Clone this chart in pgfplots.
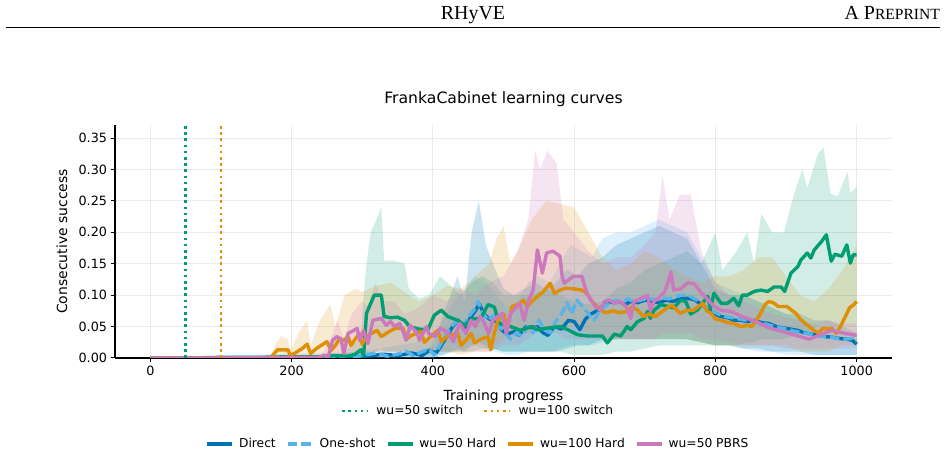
\documentclass[border=0pt]{standalone}
\usepackage{pgfplots}
\pgfplotsset{compat=1.18}
\usepackage{pgfplotstable}
\usepgfplotslibrary{fillbetween}
\usepackage{fontspec}
\setmainfont{DejaVu Sans}
\newfontfamily\headfont{Liberation Serif}

\definecolor{cDirect}{HTML}{0173B2}
\definecolor{cOne}{HTML}{56B4E9}
\definecolor{cGreen}{HTML}{029E73}
\definecolor{cOrange}{HTML}{DE8F05}
\definecolor{cPink}{HTML}{CC78BC}

\pgfplotstableread{
x y
0 0
100 0
200 0
300 0.002
330 0.006
350 0.004
370 0.008
385 0.004
395 0.012
405 0.008
412 0.02
420 0.035
428 0.05
436 0.06
444 0.045
452 0.062
460 0.075
466 0.086
472 0.07
480 0.062
490 0.058
497 0.045
505 0.038
515 0.042
522 0.036
532 0.05
540 0.048
548 0.05
556 0.04
563 0.036
572 0.05
582 0.046
592 0.06
600 0.058
608 0.045
616 0.062
624 0.07
632 0.075
640 0.082
648 0.09
656 0.088
664 0.09
672 0.085
680 0.09
690 0.088
700 0.092
710 0.09
720 0.088
730 0.092
740 0.09
750 0.094
760 0.095
770 0.093
780 0.085
790 0.078
798 0.07
808 0.066
818 0.064
826 0.06
836 0.06
846 0.058
856 0.06
866 0.056
876 0.055
886 0.05
896 0.048
906 0.046
916 0.044
926 0.04
936 0.038
946 0.036
956 0.034
966 0.033
976 0.031
986 0.03
994 0.028
1000 0.022
}\meanDirect

\pgfplotstableread{
x y
0 0
100 0
200 0
280 0.001
300 0.004
320 0.008
335 0.003
350 0.006
362 0.011
372 0.004
385 0.01
395 0.014
402 0.005
410 0.02
418 0.035
426 0.05
434 0.058
442 0.05
450 0.065
458 0.076
464 0.09
470 0.072
478 0.06
486 0.068
494 0.05
502 0.04
510 0.03
518 0.04
526 0.035
534 0.05
542 0.04
550 0.06
558 0.045
566 0.04
574 0.058
582 0.07
590 0.088
596 0.07
604 0.092
612 0.082
620 0.07
628 0.06
636 0.075
644 0.082
652 0.09
660 0.092
668 0.088
676 0.094
684 0.09
694 0.092
704 0.095
714 0.093
724 0.096
734 0.094
744 0.098
754 0.1
764 0.098
774 0.092
784 0.082
794 0.076
804 0.07
814 0.066
824 0.064
834 0.062
844 0.06
854 0.058
864 0.056
874 0.053
884 0.05
894 0.048
904 0.045
914 0.042
924 0.04
934 0.038
944 0.036
954 0.034
964 0.033
974 0.031
984 0.03
994 0.031
1000 0.027
}\meanOne

\pgfplotstableread{
x y
0 0
50 0
100 0.001
150 0.001
200 0.002
240 0.002
260 0.004
280 0.003
290 0.006
298 0.013
302 0.004
306 0.071
317 0.1
327 0.1
331 0.066
340 0.064
350 0.065
360 0.06
367 0.05
380 0.046
393 0.045
402 0.068
412 0.076
421 0.066
435 0.06
445 0.052
455 0.062
468 0.063
478 0.085
487 0.081
494 0.055
510 0.05
524 0.044
540 0.05
548 0.045
565 0.048
581 0.05
591 0.045
605 0.037
620 0.035
640 0.035
647 0.024
657 0.038
666 0.035
675 0.05
680 0.045
690 0.058
699 0.063
704 0.074
708 0.063
713 0.076
723 0.085
732 0.082
741 0.08
751 0.092
758 0.09
765 0.07
775 0.077
789 0.098
793 0.079
798 0.103
808 0.087
817 0.087
826 0.095
833 0.083
838 0.1
845 0.1
855 0.106
864 0.108
874 0.106
883 0.113
893 0.113
898 0.106
907 0.135
917 0.146
921 0.156
930 0.167
935 0.159
940 0.172
950 0.185
957 0.196
964 0.154
969 0.165
979 0.162
986 0.18
991 0.151
995 0.164
1000 0.164
}\meanGreen

\pgfplotstableread{
x y
0 0
100 0
170 0
176 0.008
180 0.013
195 0.013
198 0.004
205 0.008
215 0.015
222 0.022
227 0.007
235 0.015
250 0.026
256 0.012
262 0.02
268 0.031
274 0.028
280 0.034
284 0.02
290 0.03
296 0.039
300 0.022
306 0.035
315 0.04
321 0.044
327 0.034
335 0.04
346 0.047
358 0.047
362 0.03
370 0.036
383 0.042
388 0.025
395 0.032
407 0.044
412 0.026
420 0.034
435 0.04
440 0.02
448 0.03
454 0.039
459 0.024
468 0.03
478 0.034
482 0.013
487 0.04
492 0.06
500 0.07
506 0.05
512 0.082
520 0.085
528 0.092
534 0.082
540 0.09
548 0.098
556 0.105
566 0.119
572 0.103
580 0.108
588 0.111
600 0.11
611 0.108
618 0.103
624 0.092
630 0.085
637 0.076
645 0.072
655 0.075
665 0.072
675 0.074
682 0.082
690 0.076
698 0.066
706 0.07
715 0.066
725 0.074
732 0.08
738 0.084
744 0.078
750 0.071
760 0.076
769 0.076
776 0.082
782 0.087
788 0.075
794 0.071
800 0.062
808 0.06
818 0.056
826 0.055
836 0.05
846 0.052
851 0.05
858 0.06
864 0.071
870 0.085
876 0.09
882 0.088
889 0.082
901 0.082
908 0.076
914 0.071
920 0.062
927 0.055
933 0.05
939 0.044
946 0.04
952 0.047
958 0.046
965 0.047
971 0.039
977 0.05
984 0.066
990 0.08
996 0.085
1000 0.09
}\meanOrange

\pgfplotstableread{
x y
0 0
100 0
200 0.001
239 0.001
245 0.004
252 0.002
258 0.028
264 0.034
270 0.03
274 0.007
280 0.039
293 0.047
296 0.028
302 0.044
308 0.023
315 0.06
327 0.063
334 0.052
340 0.058
346 0.05
353 0.055
359 0.039
362 0.028
368 0.052
378 0.039
381 0.028
391 0.05
394 0.039
403 0.034
410 0.047
416 0.044
422 0.039
429 0.026
438 0.055
447 0.039
454 0.06
460 0.05
467 0.066
473 0.055
479 0.039
485 0.06
498 0.071
504 0.039
510 0.071
523 0.087
529 0.06
536 0.093
542 0.108
545 0.14
548 0.172
555 0.135
561 0.167
570 0.17
580 0.162
583 0.13
586 0.119
599 0.13
611 0.13
618 0.103
624 0.092
630 0.082
637 0.076
643 0.09
650 0.092
657 0.087
666 0.09
675 0.08
680 0.063
685 0.09
695 0.095
704 0.1
708 0.076
713 0.09
720 0.096
728 0.105
733 0.12
737 0.137
741 0.108
751 0.11
761 0.12
770 0.118
779 0.105
789 0.093
798 0.082
808 0.076
822 0.074
838 0.066
857 0.058
876 0.048
895 0.042
914 0.036
933 0.03
946 0.036
965 0.044
984 0.039
1000 0.036
}\meanPink

\pgfplotstableread{
x lo hi
0 0 0
300 0 0.002
380 0 0.01
400 0 0.02
415 0.005 0.07
425 0.01 0.1
435 0.015 0.13
445 0.01 0.09
455 0.02 0.2
465 0.025 0.25
475 0.02 0.18
485 0.015 0.15
500 0.01 0.11
515 0.01 0.1
530 0.01 0.11
545 0.01 0.12
560 0.01 0.11
575 0.01 0.12
590 0.015 0.14
605 0.02 0.13
620 0.02 0.15
640 0.03 0.16
660 0.03 0.18
680 0.03 0.19
700 0.03 0.2
720 0.03 0.21
740 0.03 0.2
760 0.03 0.19
780 0.025 0.15
800 0.02 0.11
820 0.02 0.1
840 0.015 0.1
860 0.015 0.09
880 0.01 0.08
900 0.01 0.07
920 0.01 0.07
940 0.005 0.06
960 0.005 0.06
980 0.005 0.05
1000 0.005 0.04
}\bandDirect

\pgfplotstableread{
x lo hi
0 0 0
300 0 0.01
400 0 0.03
415 0.005 0.06
430 0.01 0.09
445 0.015 0.11
460 0.02 0.13
475 0.015 0.12
490 0.01 0.1
505 0.005 0.08
520 0.005 0.09
535 0.01 0.12
550 0.01 0.13
565 0.01 0.12
580 0.015 0.15
595 0.02 0.18
610 0.02 0.17
625 0.02 0.16
640 0.025 0.19
660 0.03 0.2
680 0.03 0.2
700 0.03 0.21
720 0.03 0.22
740 0.03 0.21
760 0.03 0.2
780 0.025 0.16
800 0.02 0.12
820 0.02 0.11
840 0.015 0.1
860 0.01 0.09
880 0.01 0.08
900 0.005 0.07
920 0.005 0.06
940 0.005 0.05
960 0.005 0.05
980 0.005 0.05
1000 0.005 0.05
}\bandOne

\pgfplotstableread{
x lo hi
0 0 0
270 0 0.005
285 0 0.02
298 0 0.03
302 0.002 0.1
306 0.005 0.15
312 0.01 0.2
320 0.01 0.22
327 0.015 0.24
331 0.01 0.155
345 0.01 0.155
360 0.01 0.15
366 0.005 0.11
380 0.005 0.095
395 0.005 0.1
410 0.01 0.13
425 0.01 0.115
440 0.01 0.1
455 0.01 0.12
470 0.015 0.13
485 0.015 0.12
500 0.01 0.1
520 0.01 0.1
540 0.01 0.1
560 0.01 0.11
580 0.01 0.1
600 0.005 0.09
620 0.005 0.085
640 0.005 0.09
660 0.01 0.11
680 0.01 0.12
700 0.015 0.14
720 0.02 0.15
740 0.02 0.16
760 0.02 0.17
780 0.02 0.15
800 0.02 0.2
810 0.02 0.14
830 0.02 0.17
845 0.025 0.2
855 0.025 0.15
865 0.03 0.23
880 0.03 0.2
897 0.03 0.2
911 0.035 0.26
923 0.04 0.3
930 0.04 0.27
945 0.05 0.325
953 0.05 0.335
963 0.05 0.262
973 0.05 0.257
987 0.05 0.296
991 0.05 0.262
1000 0.05 0.272
}\bandGreen

\pgfplotstableread{
x lo hi
0 0 0
170 0 0
176 0 0.02
185 0 0.035
195 0 0.03
198 0 0.01
210 0 0.04
222 0 0.06
227 0 0.02
240 0 0.06
255 0 0.085
262 0 0.05
275 0.002 0.1
290 0.005 0.11
300 0.005 0.105
320 0.01 0.115
340 0.01 0.12
360 0.01 0.105
380 0.01 0.09
400 0.01 0.1
420 0.01 0.115
440 0.005 0.11
460 0.01 0.13
480 0.01 0.15
490 0.02 0.19
500 0.03 0.21
510 0.03 0.15
520 0.04 0.17
540 0.04 0.22
560 0.05 0.25
580 0.05 0.245
600 0.05 0.24
620 0.04 0.2
640 0.03 0.16
660 0.03 0.14
680 0.03 0.15
700 0.03 0.17
720 0.03 0.16
740 0.03 0.14
760 0.03 0.13
780 0.025 0.12
800 0.02 0.13
820 0.02 0.13
840 0.02 0.14
860 0.02 0.16
880 0.02 0.16
900 0.02 0.13
920 0.01 0.1
940 0.01 0.09
960 0.01 0.11
980 0.02 0.14
1000 0.02 0.18
}\bandOrange

\pgfplotstableread{
x lo hi
0 0 0
240 0 0
255 0 0.03
265 0 0.06
274 0 0.03
285 0.002 0.07
300 0.005 0.09
310 0.005 0.08
318 0.01 0.12
330 0.01 0.09
345 0.01 0.09
360 0.005 0.07
380 0.005 0.08
400 0.01 0.1
420 0.01 0.09
440 0.01 0.11
460 0.01 0.1
480 0.01 0.12
500 0.02 0.13
520 0.02 0.17
535 0.03 0.22
545 0.04 0.33
552 0.04 0.30
562 0.04 0.33
575 0.04 0.31
585 0.03 0.22
600 0.03 0.2
620 0.03 0.17
640 0.03 0.15
660 0.03 0.16
680 0.03 0.16
700 0.03 0.18
715 0.03 0.2
725 0.04 0.29
735 0.04 0.22
750 0.04 0.26
765 0.04 0.26
780 0.03 0.17
800 0.03 0.12
820 0.025 0.1
840 0.02 0.09
860 0.02 0.08
880 0.02 0.07
900 0.015 0.065
920 0.015 0.06
940 0.015 0.055
960 0.015 0.06
980 0.015 0.055
1000 0.015 0.055
}\bandPink

\pgfplotsset{
  commonaxis/.style={
    at={(115bp,98bp)}, anchor=south west, scale only axis,
    width=777bp, height=233bp,
    xmin=-50, xmax=1050, ymin=0, ymax=0.3707,
  },
  myleg/.style={
    legend image code/.code={\draw[##1] (0bp,0bp) -- (25bp,0bp);},
  },
}

\begin{document}
\begin{tikzpicture}
\node[font=\headfont\fontsize{20}{20}\selectfont, anchor=base, inner sep=0pt] at (473bp,436bp) {RHyVE};
\node[font=\headfont\fontsize{20}{20}\selectfont, anchor=base east, inner sep=0pt] at (940bp,436bp) {A P{\fontsize{15.6}{16}\selectfont REPRINT}};
\draw[line width=1bp] (6bp,428.5bp) -- (940bp,428.5bp);

\begin{axis}[commonaxis, myleg,
  axis x line*=bottom, axis y line*=left,
  axis line style={black, line width=1.1bp, -},
  tick align=outside, major tick length=4.5bp,
  tick style={black, line width=1bp},
  xtick={0,200,400,600,800,1000},
  ytick={0,0.05,0.1,0.15,0.2,0.25,0.3,0.35},
  grid=major, major grid style={color=black!8, line width=1bp},
  /pgf/number format/assume math mode=true,
  /pgf/number format/1000 sep={},
  ticklabel style={font=\fontsize{12.8}{13}\selectfont},
  yticklabel style={/pgf/number format/.cd, fixed, fixed zerofill, precision=2},
  xticklabel style={/pgf/number format/.cd, fixed, precision=0, 1000 sep={}},
  scaled y ticks=false,
  title={FrankaCabinet learning curves},
  title style={font=\fontsize{15.7}{16}\selectfont, at={(axis description cs:0.5,1.086)}, anchor=center},
  xlabel={Training progress},
  xlabel style={font=\fontsize{14}{15}\selectfont, at={(axis description cs:0.5,-0.165)}, anchor=center},
  ylabel={Consecutive success},
  ylabel style={font=\fontsize{14}{15}\selectfont, at={(axis description cs:-0.0682,0.5)}, anchor=center},
  legend columns=5,
  legend style={at={(axis description cs:0.4672,-0.369)}, anchor=center, draw=none, fill=none,
    font=\fontsize{12.3}{13}\selectfont,
    /tikz/every odd column/.append style={column sep=3bp},
    /tikz/every even column/.append style={column sep=8.5bp}},
]
\addplot[draw=none, name path=dU, forget plot] table[x=x,y=hi]{\bandDirect};
\addplot[draw=none, name path=dL, forget plot] table[x=x,y=lo]{\bandDirect};
\addplot[fill=cDirect, fill opacity=0.2, draw=none, forget plot] fill between[of=dU and dL];
\addplot[draw=none, name path=oU, forget plot] table[x=x,y=hi]{\bandOne};
\addplot[draw=none, name path=oL, forget plot] table[x=x,y=lo]{\bandOne};
\addplot[fill=cOne, fill opacity=0.2, draw=none, forget plot] fill between[of=oU and oL];
\addplot[draw=none, name path=gU, forget plot] table[x=x,y=hi]{\bandGreen};
\addplot[draw=none, name path=gL, forget plot] table[x=x,y=lo]{\bandGreen};
\addplot[fill=cGreen, fill opacity=0.18, draw=none, forget plot] fill between[of=gU and gL];
\addplot[draw=none, name path=rU, forget plot] table[x=x,y=hi]{\bandOrange};
\addplot[draw=none, name path=rL, forget plot] table[x=x,y=lo]{\bandOrange};
\addplot[fill=cOrange, fill opacity=0.18, draw=none, forget plot] fill between[of=rU and rL];
\addplot[draw=none, name path=pU, forget plot] table[x=x,y=hi]{\bandPink};
\addplot[draw=none, name path=pL, forget plot] table[x=x,y=lo]{\bandPink};
\addplot[fill=cPink, fill opacity=0.2, draw=none, forget plot] fill between[of=pU and pL];
\addplot[cDirect, line width=3.4bp, line join=round, mark=none] table[x=x,y=y]{\meanDirect};
\addlegendentry{Direct}
\addplot[cOne, line width=3.4bp, line join=round, dash pattern=on 9.5bp off 4bp, mark=none] table[x=x,y=y]{\meanOne};
\addlegendentry{One-shot}
\addplot[cGreen, line width=3.4bp, line join=round, mark=none] table[x=x,y=y]{\meanGreen};
\addlegendentry{wu=50 Hard}
\addplot[cOrange, line width=3.4bp, line join=round, mark=none] table[x=x,y=y]{\meanOrange};
\addlegendentry{wu=100 Hard}
\addplot[cPink, line width=3.4bp, line join=round, mark=none] table[x=x,y=y]{\meanPink};
\addlegendentry{wu=50 PBRS}
\end{axis}

\begin{axis}[commonaxis, myleg,
  axis x line=none, axis y line=none, xtick=\empty, ytick=\empty,
  legend columns=2,
  legend style={at={(axis description cs:0.4672,-0.2275)}, anchor=center, draw=none, fill=none,
    font=\fontsize{12.3}{13}\selectfont,
    /tikz/every odd column/.append style={column sep=6bp},
    /tikz/every even column/.append style={column sep=18bp}},
]
\addplot[cGreen, line width=2.6bp, dash pattern=on 2.6bp off 3.6bp, mark=none] coordinates {(50,0) (50,0.3707)};
\addlegendentry{wu=50 switch}
\addplot[cOrange, line width=2.6bp, dash pattern=on 2.6bp off 3.6bp, mark=none] coordinates {(100,0) (100,0.3707)};
\addlegendentry{wu=100 switch}
\end{axis}
\pgfresetboundingbox
\path[use as bounding box] (0bp,0bp) rectangle (948bp,456bp);
\end{tikzpicture}
\end{document}
